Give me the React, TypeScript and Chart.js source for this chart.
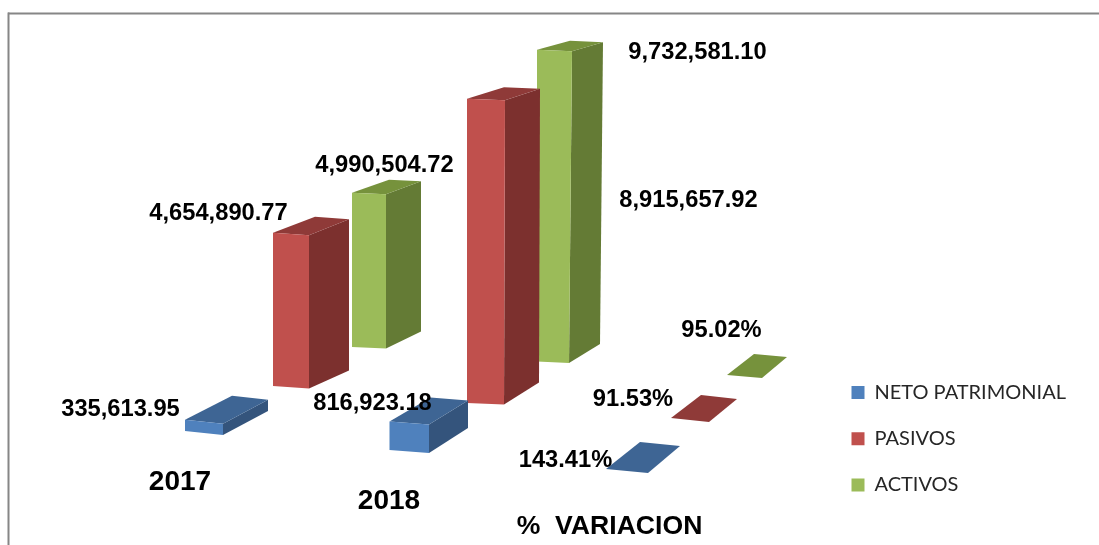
import React, { useEffect, useRef } from "react";
import { Chart, registerables } from "chart.js";

Chart.register(...registerables);

// ---- data ----
const categories = ["2017", "2018", "%  VARIACION"];
const seriesNames = ["NETO PATRIMONIAL", "PASIVOS", "ACTIVOS"];
const netoValues = [335613.95, 816923.18, 143.41];
const pasivosValues = [4654890.77, 8915657.92, 91.53];
const activosValues = [4990504.72, 9732581.1, 95.02];
const seriesValues = [netoValues, pasivosValues, activosValues];

// ---- styles ----
const frontColors = ["#4F81BD", "#C0504D", "#9BBB59"];
const topColors = ["#3E6594", "#8F3A38", "#76923C"];
const sideColors = ["#34547C", "#7C302E", "#647B35"];
const labelFont = 'bold 23.7px "Liberation Sans"';
const categoryFonts = ['bold 28px "Liberation Sans"', 'bold 28px "Liberation Sans"', 'bold 26.6px "Liberation Sans"'];

// ---- oblique projection of the original 3D chart ----
const W = 1099;
const H = 545;
const pxPerMillion = [33.5, 32.9, 30.9]; // one hidden value axis per depth row
const categoryStretch = [1, 1.037, 1];
const rowX = [
  [204, 409.25, 627],
  [291, 486, 690],
  [369, 554.5, 744.5],
];
const rowFloorPx = [
  [431, 450, 469],
  [386, 403, 418],
  [347, 361.5, 375],
];
type Geo = { w: number; skew: number; dx: number; dyTop: number; dyBottom: number; lean: number };
const geometry: Geo[][] = [
  [
    { w: 38, skew: 4, dx: 45, dyTop: -24, dyBottom: -24, lean: 0 },
    { w: 39.5, skew: 3, dx: 39, dyTop: -24, dyBottom: -25, lean: 0 },
    { w: 42, skew: 4, dx: 32, dyTop: -27, dyBottom: -27, lean: 0 },
  ],
  [
    { w: 36, skew: 2.5, dx: 40, dyTop: -16, dyBottom: -18, lean: 0 },
    { w: 38, skew: 1.5, dx: 35, dyTop: -11.5, dyBottom: -22, lean: 1 },
    { w: 38, skew: 4, dx: 28, dyTop: -23, dyBottom: -23, lean: 0 },
  ],
  [
    { w: 34, skew: 1.5, dx: 35, dyTop: -13, dyBottom: -17, lean: 0 },
    { w: 35, skew: 1.5, dx: 31, dyTop: -9, dyBottom: -19, lean: 3 },
    { w: 35, skew: 3, dx: 25, dyTop: -21, dyBottom: -21, lean: 0 },
  ],
];
const valueLabelAt = [
  [[120.5, 409], [372.5, 403], [565.5, 460]],
  [[218.5, 213], [688.5, 200], [633, 399]],
  [[384.5, 165], [697.5, 52], [721.5, 330]],
];
const categoryLabelAt = [[180, 482], [389, 501], [609.5, 527]];
const legendAt = { left: 825.25, top: 356.25 };

const yAxisIds = ["yNeto", "yPasivos", "yActivos"];
const unitsPerPx = (row: number) => 1e6 / pxPerMillion[row];
const floorValue = (row: number, cat: number) => (H - rowFloorPx[row][cat]) * unitsPerPx(row);
const fmtValue = (cat: number, v: number) =>
  cat === 2
    ? `${v.toFixed(2)}%`
    : v.toLocaleString("en-US", { minimumFractionDigits: 2, maximumFractionDigits: 2 });

function poly(ctx: CanvasRenderingContext2D, pts: number[][], fill: string) {
  ctx.beginPath();
  ctx.moveTo(pts[0][0], pts[0][1]);
  for (let i = 1; i < pts.length; i++) ctx.lineTo(pts[i][0], pts[i][1]);
  ctx.closePath();
  ctx.fillStyle = fill;
  ctx.fill();
}

const cuboidPlugin = {
  id: "cuboids",
  afterLayout(chart: any) {
    const lg = chart.legend;
    if (lg) {
      lg.left = legendAt.left;
      lg.top = legendAt.top;
      lg.right = lg.left + lg.width;
      lg.bottom = lg.top + lg.height;
    }
  },
  beforeDraw(chart: any) {
    const { ctx } = chart;
    ctx.save();
    ctx.fillStyle = "#FFFFFF";
    ctx.fillRect(0, 0, W, H);
    ctx.fillStyle = "#868686";
    ctx.fillRect(8, 12.5, W - 8, 2);
    ctx.fillRect(7.5, 12.5, 2, H - 12.5);
    ctx.restore();
  },
  beforeDatasetDraw(chart: any, args: any) {
    const { ctx } = chart;
    const row = args.index;
    ctx.save();
    args.meta.data.forEach((el: any, cat: number) => {
      const g = geometry[row][cat];
      const base = el.base;
      const h = (el.base - el.y) * categoryStretch[cat];
      const xL = el.x - g.w / 2;
      const xR = xL + g.w;
      const topL = [xL, base - h];
      const topR = [xR, base - h + g.skew];
      const botR = [xR - g.lean, base + g.skew];
      const botL = [xL, base];
      const backTopR = [topR[0] + g.dx, topR[1] + g.dyTop];
      const backTopL = [xL + g.dx + 2, topL[1] + g.dyTop];
      const backBotR = [botR[0] + g.dx, botR[1] + g.dyBottom];
      if (h > 1) poly(ctx, [topR, backTopR, backBotR, botR], sideColors[row]);
      poly(ctx, [topL, backTopL, backTopR, topR], topColors[row]);
      if (h > 1) poly(ctx, [topL, topR, botR, botL], frontColors[row]);
    });
    ctx.restore();
    return false;
  },
  afterDatasetsDraw(chart: any) {
    const { ctx } = chart;
    ctx.save();
    ctx.textAlign = "center";
    ctx.textBaseline = "middle";
    ctx.fillStyle = "#000000";
    ctx.font = labelFont;
    seriesValues.forEach((vals, row) =>
      vals.forEach((v, cat) => {
        const [x, y] = valueLabelAt[row][cat];
        ctx.fillText(fmtValue(cat, v), x, y);
      })
    );
    categories.forEach((c, i) => {
      const [x, y] = categoryLabelAt[i];
      ctx.font = categoryFonts[i];
      ctx.fillText(c, x, y);
    });
    ctx.restore();
  },
};

export default function App() {
  const ref = useRef<HTMLCanvasElement>(null);
  useEffect(() => {
    if (!ref.current) return;
    const yScale = (row: number) => ({
      type: "linear",
      display: false,
      min: 0,
      max: H * unitsPerPx(row),
      bounds: "data",
    });
    const chart = new Chart(ref.current, {
      type: "bar",
      data: {
        datasets: seriesNames.map((name, row) => ({
          label: name,
          yAxisID: yAxisIds[row],
          xAxisID: "x",
          grouped: false,
          barThickness: 36,
          backgroundColor: frontColors[row],
          borderWidth: 0,
          data: seriesValues[row].map((v, cat) => ({
            x: rowX[row][cat],
            y: [floorValue(row, cat), floorValue(row, cat) + v],
          })),
        })),
      } as any,
      options: {
        animation: false,
        responsive: false,
        maintainAspectRatio: false,
        layout: { padding: 0 },
        scales: {
          x: { type: "linear", display: false, min: 0, max: W, offset: false, bounds: "data" },
          yNeto: yScale(0),
          yPasivos: yScale(1),
          yActivos: yScale(2),
        },
        plugins: {
          tooltip: { enabled: false },
          legend: {
            position: "chartArea",
            align: "start",
            labels: {
              boxWidth: 13,
              boxHeight: 13,
              padding: 26.25,
              color: "#262626",
              font: { family: "Lato", size: 20 },
            },
          },
        },
      } as any,
      plugins: [cuboidPlugin as any],
    });
    return () => chart.destroy();
  }, []);
  return (
    <div style={{ position: "absolute", left: 0, top: 0, width: W, height: H, background: "#fff" }}>
      <canvas ref={ref} width={W} height={H} style={{ display: "block" }} />
    </div>
  );
}
